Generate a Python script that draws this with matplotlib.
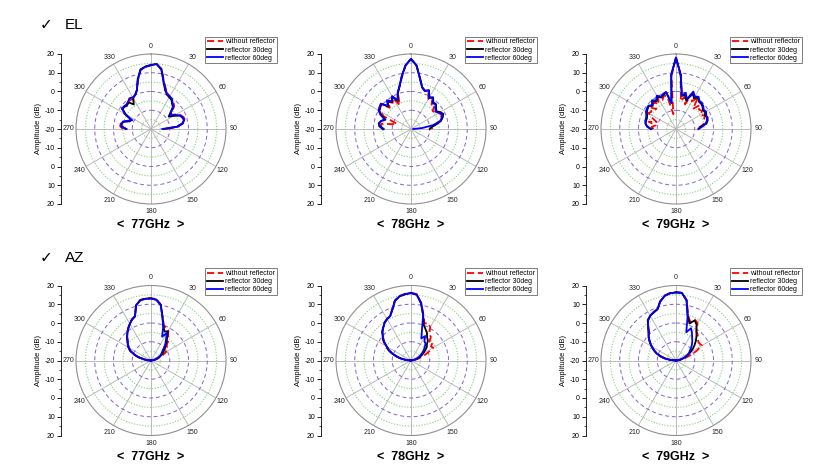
import numpy as np
import matplotlib.pyplot as plt
from matplotlib.ticker import FixedLocator

plt.rcParams['font.family'] = ['Liberation Sans', 'DejaVu Sans']

# angle grid (deg), 0 = boresight
angles = [-90, -85, -80, -75, -70, -65, -60, -55, -50, -45, -40, -35, -30, -25, -20, -15, -10, -5,
          0, 5, 10, 15, 20, 25, 30, 35, 40, 45, 50, 55, 60, 65, 70, 75, 80, 85, 90]

# EL cut
el77_without = [-5, -3.5, -3.5, -5, -7.5, -8.5, -3.5, -1, -1.5, -2.5, -1, -1, -1.5, 0, 2, 7, 12, 13.3,
                14, 14.6, 12.5, 6.5, 3, 1, 0, -0.5, -1.5, -2.5, -5, -7, -4.5, -2.5, -1.5, -1.2, -2.5, -5.5, -12]
el77_r30 = [-6.5, -4.5, -4, -5, -8, -8, -4.5, -1.5, -1.5, -2, -1.5, -4, -1, 0, 2, 7.5, 12.3, 13.5,
            14.2, 14.8, 12.3, 6, 2, 0.2, -0.5, -1, -2.5, -3.5, -6.5, -8.5, -6, -3, -2.2, -1.8, -3, -6, -13]
el77_r60 = [-7, -4, -4, -4.5, -7, -9, -4, -1, -1.2, -1.5, -1, 0, -0.5, 0, 2, 7, 12, 13.3,
            14, 14.8, 12, 6, 2.5, 0.5, 0, -0.5, -2, -3, -6, -7.5, -5, -3, -2, -1.6, -3, -6, -14]

el78_without = [-4.5, -4, -4, -10, -12, -4, -1, 0, 0.5, -4, -1, -3, -1, -6, 0.5, 3.6, 8, 13.8,
                17.3, 13.8, 7.5, 3, 1.5, 2, -1.5, 0, -3, -2, -5, -4.5, -3, -2, -3, -4.5, -7, -9, -8.5]
el78_r30 = [-5, -3, -2.5, -3.5, -5.5, -2.5, -0.5, 0.3, 0.8, -3, -0.5, -2.5, 0, -3.5, 0.5, 3.6, 8.5, 14,
            17.3, 14, 7.5, 3, 1.8, 2.8, -0.5, 0.6, -1.5, -1.2, -2.5, -3.5, -2, -1, -2, -3.5, -6.5, -9, -10]
el78_r60 = [-5.5, -3.5, -2.8, -3.5, -5, -2, 0, 0.5, 1, -2.5, 0, -2, 0.2, -3, 0.8, 3.6, 8.5, 14,
            17.5, 14, 7.5, 3, 1.5, 2.6, -1, 0.4, -2, -1.5, -3, -4, -2.5, -1.5, -2.5, -4, -8, -14, -18.8]

el79_without = [-8, -7, -9, -5, -9, -6, -3, -4, -2, -5, -1, -4, -0.5, -3, -1, -2, -12, 8.5,
                18, 8.5, -5, -2, -6, 1, -3, 0.5, -6, -2, -4, -3, -5, -3, -4, -5, -5, -7, -9]
el79_r30 = [-6.5, -4.5, -3.5, -3.5, -3.5, -3, -2, -1.5, -1, -2.5, -0.5, -2, 0, -1.5, -0.5, 0, -6, 9,
            18, 9, -2, -1, -4, 1.5, -1, 0.5, -1, -1, -1.5, -2.5, -2, -3, -2, -2.5, -3.5, -7, -8]
el79_r60 = [-7, -4.5, -3.5, -3, -3, -2.5, -1.5, -1, -0.7, -2, 0, -1.5, 0.5, -1, 0, 0.5, -6, 9,
            18.2, 9, -2, 0, -3, 2, 0, 1, -0.5, -0.5, -1, -2, -1.5, -2.2, -2.5, -3, -4, -6, -8]

# AZ cut
az77_without = [-20, -18, -15.5, -12.5, -10, -7.5, -6, -4.5, -3.5, -1.8, -0.3, 1.2, 2.7, 4.2, 5.2, 10.8, 12.8, 13.3,
                13.3, 12.8, 10.3, 4, 0, -1, -1.5, -4, -5, -8, -9, -11, -10.5, -13, -15, -16.5, -18, -19.5, -20]
az77_r30 = [-20, -18, -16, -13, -10.3, -7.8, -6.3, -4.8, -3.7, -2, -0.4, 1.1, 2.6, 4, 5, 10.6, 12.7, 13.1,
            13.1, 12.6, 10.1, 3.8, -0.5, -3, -2, -5, -7, -9, -10.5, -12, -13, -14.5, -16, -17, -18.5, -19.5, -20]
az77_r60 = [-20, -18, -16, -13, -10.5, -8, -6.5, -5, -3.8, -2, -0.5, 1, 2.5, 4, 5, 10.5, 12.6, 13,
            13, 12.5, 10, 3.6, -1, -6, -3, -6, -8, -10, -12, -13, -14, -15, -16.5, -17.5, -18.5, -19.5, -20]

az78_without = [-20, -17.5, -14.5, -12, -9, -6.5, -4.5, -2, 0, 1.8, 3.2, 4.7, 5.7, 6.4, 9.2, 13.2, 15, 15.7,
                16.2, 15.5, 11.3, 5.5, 1, 1.9, 0.5, -3, -3.5, -6, -5, -7, -6.3, -10, -13, -15.5, -17.5, -19, -20]
az78_r30 = [-20, -18, -15, -12.5, -9.5, -7, -5, -2.3, -0.3, 1.6, 3, 4.6, 5.5, 6.2, 9, 13, 14.8, 15.5,
            16, 15.2, 11, 5, 0, -1.6, -3, -5, -6, -8, -9, -11, -12.5, -14, -15.5, -17, -18.5, -19.5, -20]
az78_r60 = [-20, -18, -15, -12.5, -9.5, -7, -5, -2.5, -0.5, 1.5, 3, 4.5, 5.5, 6.2, 9, 13, 14.8, 15.5,
            16, 15.2, 11, 5, -3, -7, -5, -7.5, -8, -9.5, -11, -12.5, -14, -15, -16.5, -17.5, -18.5, -19.5, -20]

az79_without = [-20, -17, -14, -11, -9, -7, -5, -3, -1, 0, 3, 6, 7.5, 8.3, 9.2, 12.7, 15.2, 16.2,
                16.5, 16.3, 12.8, 5, 2, 4, 3, -1, -2, -3.5, -4.5, -4.5, -4, -8, -12, -15, -17.5, -19, -20]
az79_r30 = [-20, -17.5, -14.5, -11.8, -9, -7, -5, -3, -1, 0.8, 3, 6.3, 7.5, 8.2, 9, 12.5, 15, 16,
            16.3, 16.2, 12.5, 4.5, 1, 3.6, 2, -1, -3, -5, -7, -9, -11, -13, -15, -16.5, -18, -19, -20]
az79_r60 = [-20, -17, -14, -11.5, -9, -7, -5, -3, -1, 0.5, 3, 6, 7.6, 8.5, 9, 12.5, 15, 16,
            16.3, 16.2, 12.5, 3.8, -4, -1, -3, -5, -6.5, -8, -9.5, -11, -12, -13.5, -15, -16.5, -18, -19, -20]

titles_el = ['77GHz', '78GHz', '79GHz']
titles_az = ['77GHz', '78GHz', '79GHz']
theta_labels = ['0', '30', '60', '90', '120', '150', '180', '210', '240', '270', '300', '330']
side_labels = ['20', '10', '0', '-10', '-20', '-10', '0', '10', '20']

W, H = 822, 474
R = 75
fig = plt.figure(figsize=(W / 100, H / 100), dpi=100)


def panel(cx, cy, title, without, r30, r60):
    ax = fig.add_axes([(cx - R) / W, 1 - (cy + R) / H, 2 * R / W, 2 * R / H], projection='polar')
    ax.set_theta_zero_location('N')
    ax.set_theta_direction(-1)
    th = np.radians(angles)
    ax.plot(th, without, color='red', ls=(0, (4, 2)), lw=1.3, label='without reflector')
    ax.plot(th, r30, color='black', lw=1.3, label='reflector 30deg')
    ax.plot(th, r60, color='blue', lw=1.3, label='reflector 60deg')
    ax.set_ylim(-20, 20)
    ax.set_yticks([-10, 0, 10])
    ax.yaxis.set_minor_locator(FixedLocator([-15, -5, 5, 15]))
    ax.set_yticklabels([])
    ax.grid(which='major', axis='y', color='#7868d0', ls=(0, (4, 3)), lw=0.7)
    ax.grid(which='minor', axis='y', color='#80d080', ls=(0, (1, 1.5)), lw=0.8)
    ax.set_thetagrids(range(0, 360, 30), theta_labels, fontsize=5)
    ax.grid(which='major', axis='x', color='#b0b0b0', ls='-', lw=0.6)
    ax.tick_params(axis='x', pad=-5, colors='#222222')
    ax.tick_params(axis='y', which='both', length=0)
    ax.spines['polar'].set_color('#909090')
    ax.spines['polar'].set_linewidth(0.8)
    leg = ax.legend(loc='upper left', bbox_to_anchor=(0.86, 1.115), fontsize=5, frameon=True,
                    fancybox=False, borderpad=0.25, labelspacing=0.15, handlelength=2.4,
                    handletextpad=0.3, borderaxespad=0)
    leg.get_frame().set_edgecolor('#444444')
    leg.get_frame().set_linewidth(0.6)

    # left amplitude scale
    sax = fig.add_axes([(cx - 90) / W, 1 - (cy + R) / H, 0.0001, 2 * R / H])
    sax.set_ylim(-40, 40)
    sax.set_yticks(range(-40, 41, 10))
    sax.set_yticklabels(side_labels[::-1], fontsize=5)
    sax.yaxis.set_minor_locator(FixedLocator(range(-35, 40, 10)))
    sax.tick_params(axis='y', which='major', length=3, width=0.6, pad=1.5)
    sax.tick_params(axis='y', which='minor', length=1.8, width=0.5)
    sax.set_xticks([])
    for s in ['top', 'right', 'bottom']:
        sax.spines[s].set_visible(False)
    sax.spines['left'].set_linewidth(0.6)
    sax.set_ylabel('Amplitude (dB)', fontsize=5.5, labelpad=2)

    fig.text(cx / W, 1 - (cy + 96) / H, '<  ' + title + '  >', ha='center', va='center',
             fontsize=9, fontweight='bold')


centers_x = [151, 411, 676]
el_data = [(el77_without, el77_r30, el77_r60), (el78_without, el78_r30, el78_r60),
           (el79_without, el79_r30, el79_r60)]
az_data = [(az77_without, az77_r30, az77_r60), (az78_without, az78_r30, az78_r60),
           (az79_without, az79_r30, az79_r60)]

for cx, t, d in zip(centers_x, titles_el, el_data):
    panel(cx, 129, t, *d)
for cx, t, d in zip(centers_x, titles_az, az_data):
    panel(cx, 360.5, t, *d)

fig.text(40 / W, 1 - 25 / H, '\u2713', fontsize=11, va='center', family='DejaVu Sans')
fig.text(65 / W, 1 - 25 / H, 'EL', fontsize=11, va='center')
fig.text(40 / W, 1 - 258 / H, '\u2713', fontsize=11, va='center', family='DejaVu Sans')
fig.text(65 / W, 1 - 258 / H, 'AZ', fontsize=11, va='center')

fig.savefig('out.png', dpi=100)
